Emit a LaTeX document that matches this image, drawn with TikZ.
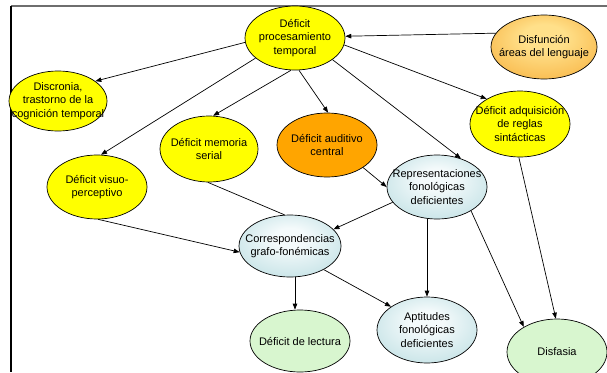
\documentclass[tikz,border=0pt]{standalone}
\usepackage{fontspec}
\setmainfont{Liberation Sans}
\usetikzlibrary{shapes.geometric,arrows.meta}

\definecolor{bubyellow}{HTML}{FFFF00}
\definecolor{audorange}{HTML}{FFA500}
\definecolor{dysin}{HTML}{FFE08A}
\definecolor{dysout}{HTML}{F5A328}
\definecolor{bluein}{HTML}{F4FAFB}
\definecolor{blueout}{HTML}{A8D4D9}
\definecolor{mint}{HTML}{D8F6CF}
\definecolor{framegray}{HTML}{6E6E6E}

% soft radial fills, lighter towards the upper middle
\pgfdeclareradialshading{dysshade}{\pgfpoint{0bp}{10bp}}{%
  color(0bp)=(dysin); color(10bp)=(dysin); color(44bp)=(dysout)}
\pgfdeclareradialshading{blueshade}{\pgfpoint{0bp}{8bp}}{%
  color(0bp)=(bluein); color(8bp)=(bluein); color(46bp)=(blueout)}

\begin{document}
\begin{tikzpicture}[x=1pt,y=-1pt,
  bub/.style={ellipse, draw=black, line width=0.7pt, inner sep=-30pt,
    minimum width=100pt, minimum height=64pt, align=center,
    font=\fontsize{11}{13.5}\selectfont},
  yellowbub/.style={bub, fill=bubyellow},
  orangebub/.style={bub, fill=audorange},
  dysbub/.style={bub, shade, shading=dysshade},
  bluebub/.style={bub, shade, shading=blueshade},
  greenbub/.style={bub, fill=mint},
  conn/.style={line width=0.7pt, black},
  arr/.style={conn, -{Triangle[length=6pt,width=4.5pt]}}
]
\useasboundingbox (0,0) rectangle (607,372);

% frame
\draw[framegray, line width=1.2pt] (11,6) -- (607,6);
\draw[black, line width=1.2pt] (11,6) -- (11,372);

% nodes
\node[yellowbub] (P) at (295,38) {Déficit\\procesamiento\\temporal};
\node[dysbub, minimum width=106pt, minimum height=64pt] (D) at (544,47) {Disfunción\\áreas del lenguaje};
\node[yellowbub, minimum width=98pt, minimum height=60pt] (C) at (58,101) {Discronia,\\trastorno de la\\cognición temporal};
\node[yellowbub, minimum height=66pt] (S) at (520,124) {Déficit adquisición\\de reglas\\sintácticas};
\node[yellowbub, minimum width=98pt, minimum height=66pt] (M) at (209,149) {Déficit memoria\\serial};
\node[orangebub] (A) at (327,145) {Déficit auditivo\\central};
\node[yellowbub] (V) at (97,187) {Déficit visuo-\\perceptivo};
\node[bluebub] (R) at (437,187) {Representaciones\\fonológicas\\deficientes};
\node[bluebub, minimum width=102pt, minimum height=62pt] (G) at (290,246) {Correspondencias\\grafo-fonémicas};
\node[greenbub, minimum height=62pt] (L) at (300,341) {Déficit de lectura};
\node[bluebub, minimum height=66pt] (F) at (427,330) {Aptitudes\\fonológicas\\deficientes};
\node[greenbub, minimum height=66pt] (Y) at (557,352) {Disfasia};

% connectors
\draw[arr] (D.164) -- (P.2);
\draw[arr] (P.185) -- (C.28);
\draw[arr] (P.207) -- (V.83);
\draw[arr] (P.263) -- (M.83);
\draw[arr] (P.277) -- (A.88);
\draw[arr] (P.330) -- (R.50);
\draw[arr] (P.352) -- (S.143);
\draw[arr] (A.328) -- (R.180);
\draw[arr] (R.199) -- (G.21);
\draw[conn] (M.268) -- (G.100);
\draw[arr] (V.272) -- (G.187);
\draw[arr] ([xshift=5pt]G.south) -- ([xshift=-5pt]L.north);
\draw[arr] (G.325) -- (F.147);
\draw[arr] (R.south -| F.north) -- (F.north);
\draw[arr] (R.325) -- (Y.143);
\draw[arr] (S.268) -- (Y.92);
\end{tikzpicture}
\end{document}
